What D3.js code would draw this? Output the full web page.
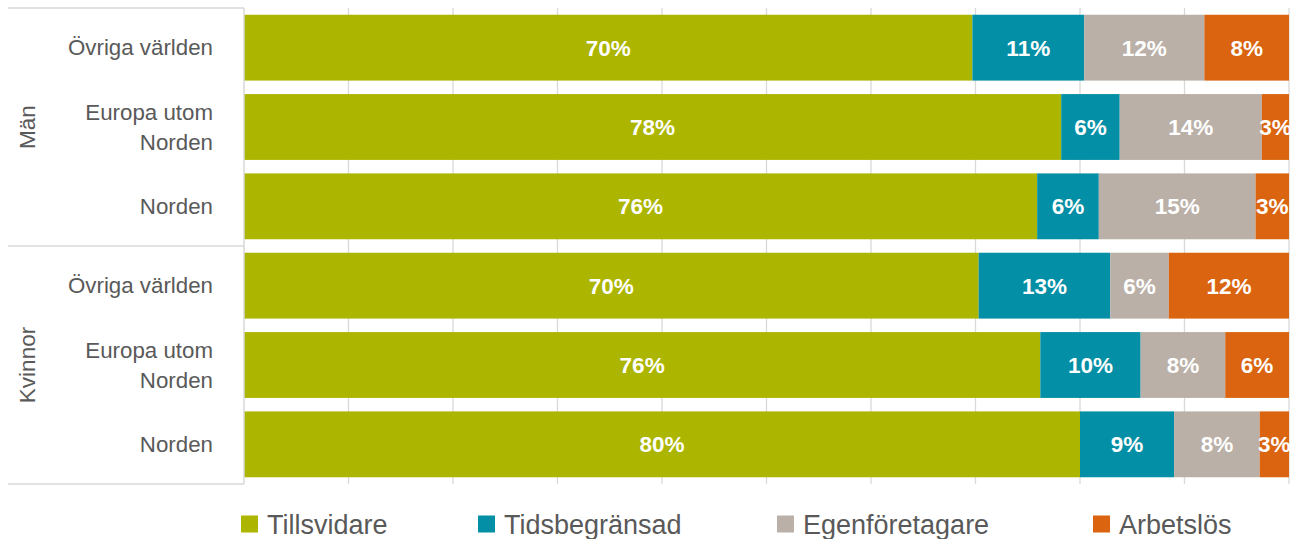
<!DOCTYPE html>
<html>
<head>
<meta charset="utf-8">
<script src="https://cdn.jsdelivr.net/npm/d3@7"></script>
<style>
  html, body { margin: 0; padding: 0; background: #fff; }
  svg { display: block; font-family: "Liberation Sans", Arial, sans-serif; }
</style>
</head>
<body>
<svg id="chart" width="1291" height="539"></svg>
<script>
// ---- data ----
const groups = ["Män", "Kvinnor"];
const rowGroup = ["Män", "Män", "Män", "Kvinnor", "Kvinnor", "Kvinnor"];
const rowLabels = [["Övriga världen"], ["Europa utom", "Norden"], ["Norden"],
                   ["Övriga världen"], ["Europa utom", "Norden"], ["Norden"]];
const seriesNames = ["Tillsvidare", "Tidsbegränsad", "Egenföretagare", "Arbetslös"];
const tillsvidare    = [69.7, 78.2, 75.9, 70.3, 76.2, 80.0];
const tidsbegransad  = [10.7,  5.6,  5.9, 12.6,  9.6,  9.0];
const egenforetagare = [11.5, 13.6, 15.0,  5.6,  8.1,  8.2];
const arbetslos      = [ 8.1,  2.6,  3.2, 11.5,  6.1,  2.8];
const xTicks = [0, 10, 20, 30, 40, 50, 60, 70, 80, 90, 100];
const colors = ["#acb500", "#038fa6", "#bab0a7", "#da640f"];

const seriesValues = [tillsvidare, tidsbegransad, egenforetagare, arbetslos];
const rows = rowLabels.map((lab, i) => {
  const o = { id: i, group: rowGroup[i], label: lab };
  seriesNames.forEach((s, k) => o[s] = seriesValues[k][i]);
  return o;
});

// ---- layout ----
const svg = d3.select("#chart");
const plotL = 244, plotR = 1289, plotT = 8, plotB = 484;
const axisLeft = 8;
const gridColor = "#d9d9d9";
const textColor = "#595959";

const x = d3.scaleLinear().domain([0, 100]).range([plotL, plotR]);
const y = d3.scaleBand().domain(rows.map(d => d.id)).range([plotT, plotB])
  .paddingInner(0.17).paddingOuter(0.085);

// gridlines
svg.append("g").selectAll("line").data(xTicks.slice(1)).join("line")
  .attr("x1", d => x(d)).attr("x2", d => x(d))
  .attr("y1", plotT).attr("y2", plotB)
  .attr("stroke", gridColor).attr("stroke-width", 1.3);

// stacked bars
const stack = d3.stack().keys(seriesNames)(rows);
const layers = svg.append("g").selectAll("g").data(stack).join("g")
  .attr("fill", (d, i) => colors[i]);
layers.selectAll("rect").data(d => d).join("rect")
  .attr("x", d => x(d[0]))
  .attr("width", d => x(d[1]) - x(d[0]))
  .attr("y", d => y(d.data.id))
  .attr("height", y.bandwidth());

// bar labels
const fmt = v => Math.round(v) + "%";
layers.selectAll("text").data(d => d.map(s => ({ s, v: s.data[d.key] }))).join("text")
  .attr("x", d => (x(d.s[0]) + x(d.s[1])) / 2)
  .attr("y", d => y(d.s.data.id) + y.bandwidth() / 2)
  .attr("dy", "0.36em")
  .attr("text-anchor", "middle")
  .attr("fill", "#fff")
  .attr("font-weight", "bold")
  .attr("font-size", "22.5px")
  .text(d => fmt(d.v));

// category axis frame
const axisG = svg.append("g");
axisG.append("line").attr("x1", plotL).attr("x2", plotL).attr("y1", plotT).attr("y2", plotB)
  .attr("stroke", gridColor).attr("stroke-width", 1.5);
const groupBounds = groups.map(g => {
  const ids = rows.filter(r => r.group === g).map(r => r.id);
  const top = y(ids[0]) - y.step() * y.paddingInner() / 2;
  const bot = y(ids[ids.length - 1]) + y.bandwidth() + y.step() * y.paddingInner() / 2;
  return { g, top: Math.max(plotT, top), bot: Math.min(plotB, bot) };
});
const hLines = [plotT, ...groupBounds.map(b => b.bot)];
axisG.selectAll("line.h").data(hLines).join("line").attr("class", "h")
  .attr("x1", axisLeft).attr("x2", plotL)
  .attr("y1", d => d).attr("y2", d => d)
  .attr("stroke", gridColor).attr("stroke-width", 1.5);

// row labels
const rl = axisG.selectAll("text.row").data(rows).join("text").attr("class", "row")
  .attr("text-anchor", "end").attr("fill", textColor).attr("font-size", "22.3px")
  .attr("transform", d => `translate(213,${y(d.id) + y.bandwidth() / 2})`);
rl.selectAll("tspan").data(d => d.label.map((t, i) => ({ t, i, n: d.label.length }))).join("tspan")
  .attr("x", 0)
  .attr("y", d => (d.i - (d.n - 1) / 2) * 30)
  .attr("dy", "0.35em")
  .text(d => d.t);

// group labels
axisG.selectAll("text.grp").data(groupBounds).join("text").attr("class", "grp")
  .attr("transform", d => `translate(27,${(d.top + d.bot) / 2}) rotate(-90)`)
  .attr("text-anchor", "middle").attr("dy", "0.35em")
  .attr("fill", textColor).attr("font-size", "22.5px")
  .text(d => d.g);

// legend
const legendX = [241, 478, 777, 1093];
const leg = svg.append("g").selectAll("g").data(seriesNames).join("g")
  .attr("transform", (d, i) => `translate(${legendX[i]},524)`);
leg.append("rect").attr("x", 0).attr("y", -8.5).attr("width", 17).attr("height", 17)
  .attr("fill", (d, i) => colors[i]);
leg.append("text").attr("x", 26).attr("dy", "0.36em")
  .attr("fill", textColor).attr("font-size", "27px").text(d => d);
</script>
</body>
</html>
